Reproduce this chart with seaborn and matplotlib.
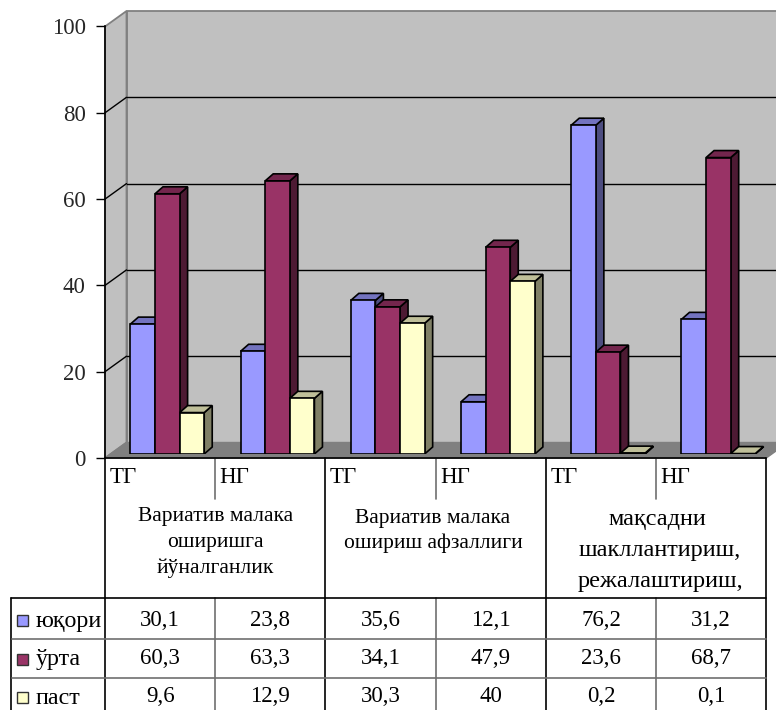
"""
Вариатив малака: 3D-style bar chart with data table
"""
import matplotlib
matplotlib.use("Agg")
import matplotlib.pyplot as plt
from matplotlib.patches import Polygon, Rectangle
import pandas as pd
import seaborn as sns

sub_labels = ["ТГ", "НГ", "ТГ", "НГ", "ТГ", "НГ"]
group_labels = [
    ["Вариатив малака", "оширишга", "йўналганлик"],
    ["Вариатив малака", "ошириш афзаллиги"],
    ["мақсадни", "шакллантириш,", "режалаштириш,"],
]
series_names = ["юқори", "ўрта", "паст"]
yuqori = [30.1, 23.8, 35.6, 12.1, 76.2, 31.2]
orta = [60.3, 63.3, 34.1, 47.9, 23.6, 68.7]
past = [9.6, 12.9, 30.3, 40, 0.2, 0.1]
y_ticks = [0, 20, 40, 60, 80, 100]

front_colors = ["#9999FF", "#993366", "#FFFFCC"]
side_colors = ["#4D4D80", "#4D1A33", "#808066"]
top_colors = ["#7373BF", "#73264D", "#BFBF99"]

W, H = 776, 710
AX_L, AX_R = 105, 766.3
Y0, Y100 = 458, 26.5
BAR_Y0 = 454
DEPTH_X, DEPTH_Y = 21.5, 15.5
BAR_DX, BAR_DY = 8, 7
CAT_W = (AX_R - AX_L) / 6
PX_PER_UNIT = (Y0 - Y100) / 100

sns.set_theme(style="white")
plt.rcParams["font.family"] = ["Liberation Serif", "DejaVu Serif"]
plt.rcParams["text.color"] = "black"

rows = []
for name, values in zip(series_names, [yuqori, orta, past]):
    for i, value in enumerate(values):
        rows.append({"cat": f"{i}", "series": name, "value": value})
df = pd.DataFrame(rows)

fig = plt.figure(figsize=(W / 100, H / 100), dpi=100, facecolor="white")

# background in pixel coordinates: walls, floor, table
bg = fig.add_axes([0, 0, 1, 1], zorder=0)
bg.set_xlim(0, W)
bg.set_ylim(H, 0)
bg.set_axis_off()

back_x = AX_L + DEPTH_X
back_y0 = Y0 - DEPTH_Y
back_top = back_y0 - 100 * PX_PER_UNIT
bg.add_patch(Rectangle((back_x, back_top), W - back_x + 30, back_y0 - back_top,
                       fc="#C0C0C0", ec="#808080", lw=1.3))
bg.add_patch(Polygon([(AX_L, Y0), (back_x, back_y0), (back_x, back_top), (AX_L, Y100)],
                     fc="#C0C0C0", ec="#808080", lw=1.3))
bg.add_patch(Polygon([(AX_L, Y0), (back_x, back_y0), (AX_R + DEPTH_X, back_y0), (AX_R, Y0)],
                     fc="#808080", ec="#808080", lw=1))
for v in y_ticks[1:-1]:
    y_front = Y0 - v * PX_PER_UNIT
    y_back = back_y0 - v * PX_PER_UNIT
    bg.plot([AX_L, back_x], [y_front, y_back], color="black", lw=1)
    bg.plot([back_x, W], [y_back, y_back], color="black", lw=1)

# table lines
table_top, table_mid, table_bottom = Y0, 598, H
grey = "#707070"
for k in range(7):
    x = AX_L + k * CAT_W
    if k % 2 == 0:
        bg.plot([x, x], [table_top, table_bottom], color="black", lw=1.2)
    else:
        bg.plot([x, x], [table_top, 498.5], color=grey, lw=1.2)
        bg.plot([x, x], [table_mid, table_bottom], color=grey, lw=1.2)
bg.plot([AX_L, AX_R], [Y0, Y0], color="black", lw=1.2)
bg.plot([10.5, AX_R], [table_mid, table_mid], color="black", lw=1.2)
bg.plot([10.5, 10.5], [table_mid, table_bottom], color="black", lw=1.2)
for y in [639, 677.5]:
    bg.plot([12, AX_R], [y, y], color=grey, lw=1.2)

for i, label in enumerate(sub_labels):
    bg.text(AX_L + i * CAT_W + 4.5, 477.5, label, fontsize=16.5, ha="left", va="center")

# first line y, line step, font size, x shift of first line, x shift of other lines
group_lines = [(517, 25.5, 15.5, 0, 0), (518, 25, 15.5, -3, -2), (520, 30.5, 17.5, 1, 4)]
for g, lines in enumerate(group_labels):
    xc = AX_L + (2 * g + 1) * CAT_W
    y_start, step, size, shift_first, shift_rest = group_lines[g]
    for j, line in enumerate(lines):
        bg.text(xc + (shift_rest if j else shift_first), y_start + j * step, line, fontsize=size,
                ha="center", va="center")

row_y = [620, 659, 697]
for r, (name, values) in enumerate(zip(series_names, [yuqori, orta, past])):
    bg.add_patch(Rectangle((16.5, row_y[r] - 5.5), 11, 11, fc=front_colors[r], ec="#333333", lw=1))
    bg.text(35.5, row_y[r] + 1, name, fontsize=17.3, ha="left", va="center")
    for i, value in enumerate(values):
        text = f"{value:g}".replace(".", ",")
        bg.text(AX_L + (i + 0.5) * CAT_W, row_y[r], text, fontsize=16.5, ha="center", va="center")

# y axis
frame = fig.add_axes([AX_L / W, (H - Y0) / H, 0.02, (Y0 - Y100) / H], zorder=1)
frame.patch.set_visible(False)
frame.set_ylim(0, 100)
frame.set_xticks([])
frame.set_yticks(y_ticks)
frame.tick_params(axis="y", left=True, length=6.5, width=1, pad=7.3, labelsize=16.5, color="black")
sns.despine(ax=frame, top=True, right=True, bottom=True)
frame.spines["left"].set_color("black")
frame.spines["left"].set_linewidth(1.2)

# bars
ax = fig.add_axes([AX_L / W, (H - BAR_Y0) / H, (AX_R - AX_L) / W, (Y0 - Y100) / H], zorder=2)
sns.barplot(data=df, x="cat", y="value", hue="series", palette=front_colors, saturation=1,
            width=0.67, gap=0, edgecolor="black", linewidth=1.2, legend=False, ax=ax)
x_shift = 62.3 / CAT_W
ax.set_xlim(-x_shift, 6 - x_shift)
ax.set_ylim(0, 100)
ax.set_axis_off()

dx = BAR_DX / CAT_W
dy = BAR_DY / PX_PER_UNIT
for s, container in enumerate(ax.containers):
    for bar in container:
        x0, w, h = bar.get_x(), bar.get_width(), bar.get_height()
        bar.set_zorder(4 + 2 * s)
        ax.add_patch(Polygon([(x0 + w, 0), (x0 + w + dx, dy), (x0 + w + dx, h + dy), (x0 + w, h)],
                             fc=side_colors[s], ec="black", lw=1.2, zorder=3 + 2 * s))
        ax.add_patch(Polygon([(x0, h), (x0 + dx, h + dy), (x0 + w + dx, h + dy), (x0 + w, h)],
                             fc=top_colors[s], ec="black", lw=1.2, zorder=3 + 2 * s))

fig.savefig("out.png", dpi=100)
